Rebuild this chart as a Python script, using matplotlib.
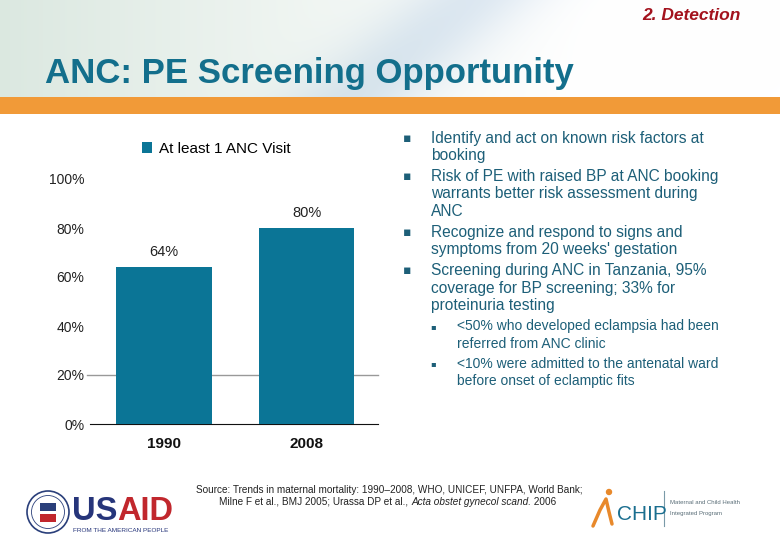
import numpy as np
import matplotlib
matplotlib.use('Agg')
import matplotlib.pyplot as plt
from matplotlib.patches import Rectangle, Ellipse
from matplotlib.lines import Line2D
from matplotlib.ticker import PercentFormatter

# data
years = ['1990', '2008']
anc_visit = [0.64, 0.80]
series_name = 'At least 1 ANC Visit'
y_ticks = [0, 0.2, 0.4, 0.6, 0.8, 1.0]

bullets = [
    ['Identify and act on known risk factors at', 'booking'],
    ['Risk of PE with raised BP at ANC booking', 'warrants better risk assessment during', 'ANC'],
    ['Recognize and respond to signs and', "symptoms from 20 weeks' gestation"],
    ['Screening during ANC in Tanzania, 95%', 'coverage for BP screening; 33% for', 'proteinuria testing'],
]
sub_bullets = [
    ['<50% who developed eclampsia had been', 'referred from ANC clinic'],
    ['<10% were admitted to the antenatal ward', 'before onset of eclamptic fits'],
]
source_line1 = 'Source: Trends in maternal mortality: 1990\u20132008, WHO, UNICEF, UNFPA, World Bank;'
source_line2 = ['Milne F et al., BMJ 2005; Urassa DP et al., ', 'Acta obstet gynecol scand.', ' 2006']

W, H = 780, 540
def fx(x):
    return x / W
def fy(y):
    return 1 - y / H

plt.rcParams['font.family'] = ['Liberation Sans', 'DejaVu Sans']
teal = '#0b7596'
text_teal = '#1d5f78'

fig = plt.figure(figsize=(7.8, 5.4), dpi=100)

# header background gradient
bg = fig.add_axes([0, 0, 1, 1], zorder=-10)
bg.axis('off')
xx, yy = np.meshgrid(np.arange(W), np.arange(H))
img = np.ones((H, W, 3))
header = (yy < 97).astype(float)
tint = np.clip(1 - xx / 600, 0, 1) ** 1.2 * header
img -= tint[..., None] * (1 - np.array([0.86, 0.91, 0.88]))
blue = np.exp(-((xx - 470 + yy * 1.2) / 70) ** 2) * header * 0.7
img -= blue[..., None] * (1 - np.array([0.84, 0.89, 0.95]))
bg.imshow(np.clip(img, 0, 1), extent=[0, 1, 0, 1], aspect='auto')
bg.set_xlim(0, 1)
bg.set_ylim(0, 1)

# orange band
fig.add_artist(Rectangle((0, fy(114)), 1, 17 / H, transform=fig.transFigure,
                         color='#f19a38', lw=0))

fig.text(fx(741), fy(16), '2. Detection', ha='right', va='center', fontsize=12.5,
         weight='bold', style='italic', color='#a3121d')
fig.text(fx(45), fy(73), 'ANC: PE Screening Opportunity', ha='left', va='center',
         fontsize=25, weight='bold', color='#136f8c')

# chart
ax = fig.add_axes([fx(90), fy(424), 288 / W, 245 / H])
bars = ax.bar(range(len(years)), anc_visit, width=0.67, color=teal, label=series_name, zorder=3)
ax.set_xlim(-0.52, 1.5)
ax.set_ylim(0, 1)
ax.set_yticks(y_ticks)
ax.yaxis.set_major_formatter(PercentFormatter(1.0, decimals=0))
ax.set_xticks(range(len(years)))
ax.set_xticklabels(years, fontsize=11, weight='bold', color='#111111')
ax.tick_params(axis='y', length=0, pad=4, labelsize=10, labelcolor='#222222')
ax.tick_params(axis='x', length=0, pad=9)
for s in ['left', 'top', 'right']:
    ax.spines[s].set_visible(False)
ax.spines['bottom'].set_color('#111111')
ax.axhline(0.2, xmin=-0.01, color='#999999', lw=1, zorder=1, clip_on=False)
ax.bar_label(bars, labels=[f'{v:.0%}' for v in anc_visit], padding=6, fontsize=10.5, color='#222222')
ax.legend(loc='center', bbox_to_anchor=(fx(216), fy(149)), bbox_transform=fig.transFigure,
          frameon=False, fontsize=11, handlelength=0.7, handleheight=0.7, handletextpad=0.4)

# bullet text
y = 138
for lines in bullets:
    fig.text(fx(407), fy(y), '\u25aa', ha='center', va='center', fontsize=9,
             color=text_teal, family='DejaVu Sans')
    for line in lines:
        fig.text(fx(431), fy(y), line, ha='left', va='center', fontsize=11.2, color=text_teal)
        y += 17.4
    y += 3.6
for lines in sub_bullets:
    fig.text(fx(433), fy(y), '\u25aa', ha='center', va='center', fontsize=6,
             color=text_teal, family='DejaVu Sans')
    for line in lines:
        fig.text(fx(457), fy(y), line, ha='left', va='center', fontsize=10, color=text_teal)
        y += 17.2
    y += 3.2

# source
fig.text(fx(389), fy(490), source_line1, ha='center', va='center', fontsize=7.2, color='#222222')
renderer = fig.canvas.get_renderer()
parts = []
for i, s in enumerate(source_line2):
    t = fig.text(0, fy(502), s, ha='left', va='center', fontsize=7.2, color='#222222',
                 style='italic' if i == 1 else 'normal')
    parts.append(t)
widths = [p.get_window_extent(renderer).width for p in parts]
x0 = 388 - sum(widths) / 2
for p, w in zip(parts, widths):
    p.set_x(fx(x0))
    x0 += w

# USAID logo
fig.add_artist(Ellipse((fx(48), fy(512)), 42 / W, 42 / H, transform=fig.transFigure,
                       facecolor='white', edgecolor='#2a3f7a', lw=1.2))
fig.add_artist(Ellipse((fx(48), fy(512)), 33 / W, 33 / H, transform=fig.transFigure,
                       facecolor='none', edgecolor='#2a3f7a', lw=0.6))
fig.add_artist(Rectangle((fx(40), fy(511)), 16 / W, 8 / H, transform=fig.transFigure,
                         facecolor='#2a3f7a', lw=0))
fig.add_artist(Rectangle((fx(40), fy(522)), 16 / W, 8 / H, transform=fig.transFigure,
                         facecolor='#c1272d', lw=0))
us = fig.text(fx(72), fy(512), 'US', ha='left', va='center', fontsize=23.5, weight='bold', color='#26357a')
w_us = us.get_window_extent(renderer).width
fig.text(fx(72 + w_us), fy(512), 'AID', ha='left', va='center', fontsize=23.5, weight='bold', color='#c1272d')
fig.text(fx(73), fy(531), 'FROM THE AMERICAN PEOPLE', ha='left', va='center', fontsize=4.6, color='#26357a')

# MCHIP logo
fig.add_artist(Ellipse((fx(609), fy(492)), 5 / W, 5 / H, transform=fig.transFigure, color='#e8892b'))
fig.add_artist(Line2D([fx(593), fx(600), fx(606), fx(609), fx(612)],
                      [fy(526), fy(510), fy(499), fy(512), fy(524)],
                      transform=fig.transFigure, color='#e8892b', lw=2.5, solid_capstyle='round'))
fig.text(fx(617), fy(515), 'CHIP', ha='left', va='center', fontsize=15, color='#1a6e8f')
fig.add_artist(Line2D([fx(664), fx(664)], [fy(491), fy(526)], transform=fig.transFigure,
                      color='#7a9aa8', lw=0.8))
fig.text(fx(670), fy(502), 'Maternal and Child Health', ha='left', va='center', fontsize=4.3, color='#5a6e78')
fig.text(fx(670), fy(513), 'Integrated Program', ha='left', va='center', fontsize=4.3, color='#5a6e78')

fig.savefig('out.png', dpi=100)
